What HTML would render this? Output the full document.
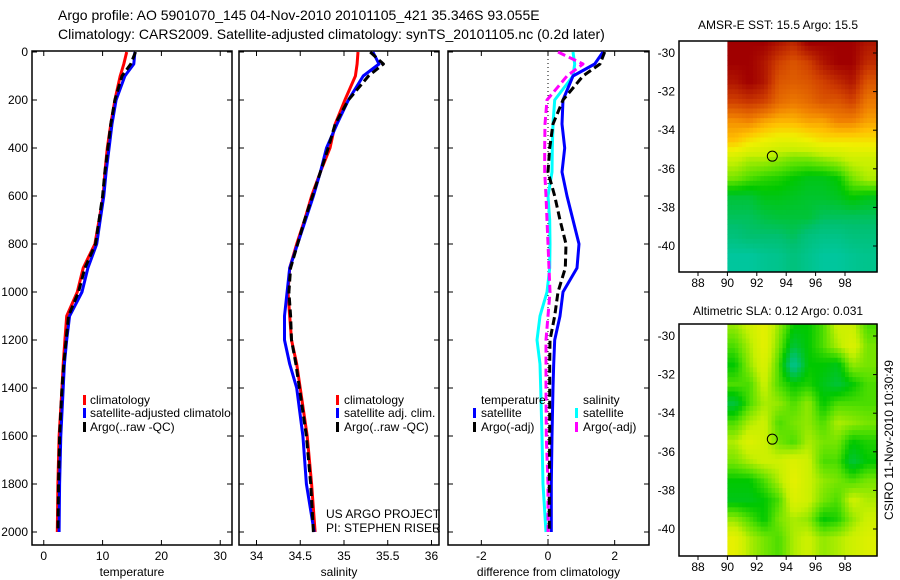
<!DOCTYPE html>
<html><head><meta charset="utf-8">
<style>
html,body{margin:0;padding:0;background:#fff;}
svg{display:block;font-family:"Liberation Sans",sans-serif;}
</style></head>
<body>
<svg id="chart" width="900" height="580" viewBox="0 0 900 580" xmlns="http://www.w3.org/2000/svg">
<defs>
<clipPath id="c1"><rect x="32" y="51" width="200" height="494"/></clipPath>
<clipPath id="c2"><rect x="239" y="51" width="200" height="494"/></clipPath>
<clipPath id="c3"><rect x="448" y="51" width="201" height="494"/></clipPath>
</defs>
<text x="58" y="20" font-size="14">Argo profile: AO 5901070_145 04-Nov-2010 20101105_421 35.346S 93.055E</text>
<text x="58" y="39" font-size="14">Climatology: CARS2009. Satellite-adjusted climatology: synTS_20101105.nc (0.2d later)</text>
<text x="778" y="29" font-size="12" text-anchor="middle">AMSR-E SST: 15.5 Argo: 15.5</text>
<text x="778" y="315" font-size="12" text-anchor="middle">Altimetric SLA: 0.12 Argo: 0.031</text>
<text transform="translate(893,440) rotate(-90)" font-size="12" text-anchor="middle">CSIRO 11-Nov-2010 10:30:49</text>
<g id="g"></g>
</svg>
<script>
// ---- data ----
const depths = [0,50,100,200,300,400,500,600,700,800,900,1000,1100,1200,1300,1400,1600,1800,2000];
const tempClim = [14.1,13.6,13.0,12.1,11.4,10.8,10.4,10.1,9.4,8.7,6.7,5.7,3.9,3.6,3.3,3.1,2.6,2.4,2.3];
const tempSat  = [15.5,15.3,13.8,12.3,11.6,11.1,10.6,10.2,9.6,9.0,7.5,6.5,4.4,3.9,3.5,3.3,2.9,2.7,2.6];
const tempArgo = [15.6,14.8,13.3,12.1,11.4,10.9,10.4,10.0,9.4,8.8,7.0,5.9,4.2,3.8,3.4,3.1,2.7,2.5,2.4];
const salClim = [35.16,35.15,35.13,35.01,34.90,34.84,34.73,34.63,34.55,34.46,34.38,34.36,34.38,34.40,34.46,34.50,34.58,34.63,34.67];
const salSat  = [35.33,35.40,35.22,35.05,34.92,34.80,34.73,34.65,34.56,34.47,34.38,34.35,34.32,34.32,34.38,34.46,34.53,34.57,34.66];
const salArgo = [35.30,35.45,35.28,35.05,34.90,34.82,34.73,34.64,34.55,34.47,34.39,34.37,34.39,34.40,34.45,34.49,34.57,34.62,34.65];
const dTempSat  = [1.65,1.4,0.75,0.45,0.42,0.5,0.42,0.57,0.75,0.93,0.87,0.45,0.36,0.2,0.17,0.15,0.12,0.1,0.1];
const dTempArgo = [1.7,1.56,1.05,0.45,0.15,0.05,0.0,0.2,0.36,0.54,0.52,0.3,0.2,0.06,0.05,0.05,0.05,0.04,0.04];
const dSalSat   = [0.75,0.8,0.75,0.2,0.15,0.13,0.12,0.0,0.05,0.06,0.05,-0.03,-0.24,-0.33,-0.24,-0.22,-0.18,-0.15,-0.06];
const dSalArgo  = [0.3,1.05,0.57,-0.03,-0.09,-0.1,-0.1,-0.06,-0.03,0.0,0.03,0.06,0.0,-0.06,-0.06,-0.06,-0.05,0.0,0.0];
const depthTicks = [0,200,400,600,800,1000,1200,1400,1600,1800,2000];
const tempTicks = [0,10,20,30];
const salTicks = [34,34.5,35,35.5,36];
const diffTicks = [-2,0,2];
const lonTicks = [88,90,92,94,96,98];
const latTicks = [-30,-32,-34,-36,-38,-40];
const gridLons = [90.5,91.5,92.5,93.5,94.5,95.5,96.5,97.5,98.5,99.5];
const gridLats = [-29.5,-30.5,-31.5,-32.5,-33.5,-34.5,-35.5,-36.5,-37.5,-38.5,-39.5,-40.5];
const sst = [
[1,1,1,.95,.9,1,1,1,1,.95],
[1,1,.95,.85,.8,.85,.95,1,1,.9],
[.95,1,.95,.8,.78,.8,.85,.9,.95,.8],
[.85,.88,.85,.75,.72,.75,.8,.8,.85,.72],
[.68,.7,.65,.62,.62,.65,.65,.7,.7,.65],
[.6,.55,.52,.5,.5,.52,.55,.55,.55,.55],
[.45,.42,.42,.4,.38,.38,.4,.42,.45,.45],
[.38,.35,.33,.32,.3,.28,.28,.3,.38,.42],
[.25,.25,.28,.28,.27,.26,.26,.27,.3,.28],
[.22,.22,.24,.25,.25,.25,.22,.22,.22,.22],
[.18,.2,.2,.2,.22,.18,.16,.16,.18,.18],
[.12,.12,.14,.15,.18,.15,.12,.12,.14,.15]];
const sla = [
[.4,.45,.5,.4,.3,.3,.35,.45,.45,.35],
[.35,.42,.5,.38,.25,.3,.35,.42,.48,.38],
[.3,.4,.48,.35,.15,.3,.3,.28,.4,.38],
[.35,.35,.45,.35,.3,.32,.28,.25,.3,.35],
[.25,.35,.42,.4,.35,.4,.3,.35,.35,.35],
[.35,.42,.45,.35,.38,.4,.35,.42,.4,.38],
[.42,.48,.45,.38,.35,.42,.38,.38,.3,.32],
[.38,.42,.45,.45,.48,.45,.35,.35,.25,.3],
[.3,.3,.35,.42,.5,.45,.4,.38,.35,.38],
[.28,.28,.3,.35,.48,.45,.38,.35,.45,.42],
[.4,.35,.3,.38,.42,.4,.3,.32,.4,.45],
[.5,.42,.38,.35,.42,.45,.4,.42,.45,.48]];
const floatLon = 93.055, floatLat = -35.346;

// ---- helpers ----
const NS="http://www.w3.org/2000/svg";
const G=document.getElementById('g');
function mk(tag,at,parent){const e=document.createElementNS(NS,tag);for(const k in at)e.setAttribute(k,at[k]);(parent||G).appendChild(e);return e;}
const yD = d => 52 + d*0.24;
const lin=(d0,d1,r0,r1)=>v=>r0+(v-d0)*(r1-r0)/(d1-d0);
const xT = lin(-2,32,32,232);
const xS = lin(33.8,36.086,239,439);
const xF = lin(-3,3.03,448,649);

function panel(name,x0,x1,xs,ticks,fmt,label,showDepth){
  const r=mk('rect',{x:x0,y:51,width:x1-x0,height:494,fill:'none',stroke:'#000','stroke-width':1.5});
  
  
  depthTicks.forEach(d=>{
    mk('line',{x1:x0,x2:x0+5,y1:yD(d),y2:yD(d),stroke:'#000'});
    mk('line',{x1:x1-5,x2:x1,y1:yD(d),y2:yD(d),stroke:'#000'});
    if(showDepth){const t=mk('text',{x:28,y:yD(d)+4,'font-size':12,'text-anchor':'end'});t.textContent=d;
      
      }
  });
  ticks.forEach(v=>{
    const x=xs(v);
    mk('line',{x1:x,x2:x,y1:51,y2:56,stroke:'#000'});
    mk('line',{x1:x,x2:x,y1:540,y2:545,stroke:'#000'});
    const t=mk('text',{x:x,y:560,'font-size':12,'text-anchor':'middle'});t.textContent=fmt(v);
    
    
  });
  const l=mk('text',{x:(x0+x1)/2,y:576,'font-size':12,'text-anchor':'middle'});l.textContent=label;
  
  
}
function series(name,vals,xs,color,clip,dash){
  const pts=vals.map((v,i)=>xs(v).toFixed(1)+','+yD(depths[i]).toFixed(1)).join(' ');
  const at={points:pts,fill:'none',stroke:color,'stroke-width':3,'clip-path':'url(#'+clip+')','stroke-linejoin':'round'};
  if(dash)at['stroke-dasharray']=dash;
  const p=mk('polyline',at);
  
  
}
function legend(name,x,y,color,text){
  const m=mk('rect',{x:x,y:y-9,width:3,height:10,fill:color});
  
  
  const t=mk('text',{x:x+8,y:y,'font-size':12});t.textContent=text;
  
  
}

// panel 1
panel('temperature-panel',32,232,xT,tempTicks,v=>v,'temperature',true);
series('temp-climatology-line',tempClim,xT,'#f00','c1');
series('temp-satellite-line',tempSat,xT,'#00f','c1');
series('temp-argo-line',tempArgo,xT,'#000','c1','8,4');
const lg1=mk('g',{'clip-path':'url(#c1)'});
[['legend-climatology','#f00','climatology',404],['legend-satellite-climatology','#00f','satellite-adjusted climatology',417],['legend-argo','#000','Argo(..raw -QC)',431]].forEach(a=>{
  const m=mk('rect',{x:83,y:a[3]-9,width:3,height:10,fill:a[1]},lg1);
  
  
  const t=mk('text',{x:90,y:a[3],'font-size':12},lg1);t.textContent=a[2];
  
  
});

// panel 2
panel('salinity-panel',239,439,xS,salTicks,v=>v,'salinity',false);
series('sal-climatology-line',salClim,xS,'#f00','c2');
series('sal-satellite-line',salSat,xS,'#00f','c2');
series('sal-argo-line',salArgo,xS,'#000','c2','8,4');
legend('sal-legend-climatology',336,404,'#f00','climatology');
legend('sal-legend-satellite',336,417,'#00f','satellite adj. clim.');
legend('sal-legend-argo',336,431,'#000','Argo(..raw -QC)');
let t=mk('text',{x:326,y:518,'font-size':12});t.textContent='US ARGO PROJECT';


t=mk('text',{x:326,y:532,'font-size':12});t.textContent='PI: STEPHEN RISER';



// panel 3
panel('difference-panel',448,649,xF,diffTicks,v=>v,'difference from climatology',false);
const zl=mk('line',{x1:xF(0),x2:xF(0),y1:51,y2:545,stroke:'#000','stroke-dasharray':'1,3'});


series('diff-sal-satellite-line',dSalSat,xF,'#0ff','c3');
series('diff-sal-argo-line',dSalArgo,xF,'#f0f','c3','8,4');
series('diff-temp-satellite-line',dTempSat,xF,'#00f','c3');
series('diff-temp-argo-line',dTempArgo,xF,'#000','c3','8,4');
t=mk('text',{x:481,y:404,'font-size':12});t.textContent='temperature';


t=mk('text',{x:583,y:404,'font-size':12});t.textContent='salinity';


legend('diff-legend-temp-satellite',473,417,'#00f','satellite');
legend('diff-legend-temp-argo',473,431,'#000','Argo(-adj)');
legend('diff-legend-sal-satellite',575,417,'#0ff','satellite');
legend('diff-legend-sal-argo',575,431,'#f0f','Argo(-adj)');

// maps
const stops=[[0,[0,208,224]],[0.2,[0,192,112]],[0.3,[0,200,0]],[0.36,[90,225,0]],[0.44,[200,240,0]],[0.52,[240,240,0]],[0.6,[255,192,0]],[0.7,[240,128,0]],[0.85,[208,64,0]],[1,[160,0,0]]];
function cmap(v){for(let i=1;i<stops.length;i++){if(v<=stops[i][0]){const a=stops[i-1],b=stops[i],f=(v-a[0])/(b[0]-a[0]);return 'rgb('+a[1].map((c,k)=>Math.round(c+(b[1][k]-c)*f)).join(',')+')';}}return 'rgb(160,0,0)';}
function sample(grid,lon,lat){
  let fc=(lon-gridLons[0]), fr=(gridLats[0]-lat);
  fc=Math.max(0,Math.min(gridLons.length-1.001,fc)); fr=Math.max(0,Math.min(gridLats.length-1.001,fr));
  const c=Math.floor(fc), r=Math.floor(fr), u=fc-c, v=fr-r;
  return grid[r][c]*(1-u)*(1-v)+grid[r][c+1]*u*(1-v)+grid[r+1][c]*(1-u)*v+grid[r+1][c+1]*u*v;
}
function map(name,top,bottom,grid){
  const xL=lin(88,98,698,845), yL=lin(-30,-40,top+12,top+12+193);
  const latTop=-30+(12/19.3), latBot=-30-(bottom-top-12)/19.3;
  const lonMax=100.2;
  const step=0.25;
  for(let la=latTop; la>latBot; la-=step){
    const la1=Math.max(la-step,latBot);
    for(let lo=90; lo<lonMax; lo+=step){
      const lo1=Math.min(lo+step,lonMax);
      const cell=mk('rect',{x:xL(lo).toFixed(1),y:yL(la).toFixed(1),width:(xL(lo1)-xL(lo)+0.5).toFixed(1),height:(yL(la1)-yL(la)+0.5).toFixed(1),fill:cmap(sample(grid,(lo+lo1)/2,(la+la1)/2))});
      
      
    }
  }
  const f=mk('rect',{x:679,y:top,width:198,height:bottom-top,fill:'none',stroke:'#000','stroke-width':1.5});
  
  
  latTicks.forEach(v=>{
    mk('line',{x1:873,x2:877,y1:yL(v),y2:yL(v),stroke:'#000'});
    const tt=mk('text',{x:675,y:yL(v)+4,'font-size':12,'text-anchor':'end'});tt.textContent=v;
    
    
  });
  lonTicks.forEach(v=>{
    mk('line',{x1:xL(v),x2:xL(v),y1:bottom,y2:bottom+4,stroke:'#000'});
    const tt=mk('text',{x:xL(v),y:bottom+15,'font-size':12,'text-anchor':'middle'});tt.textContent=v;
    
    
  });
  const m=mk('circle',{cx:xL(floatLon),cy:yL(floatLat),r:5,fill:'none',stroke:'#000'});
  
  
}
map('sst-map',41,272,sst);
map('sla-map',324,556,sla);
</script>
</body></html>
